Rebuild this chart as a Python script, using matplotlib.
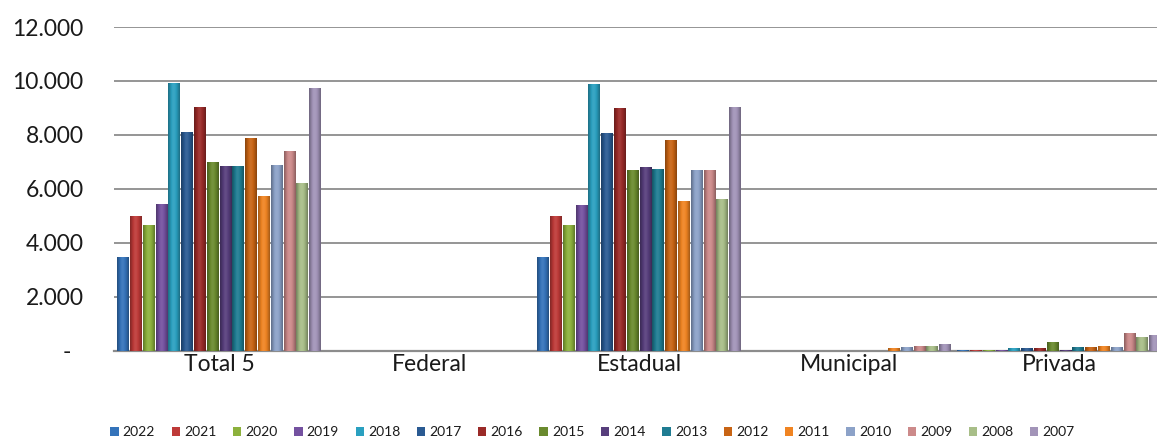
import numpy as np
import matplotlib
matplotlib.use("Agg")
import matplotlib.pyplot as plt
from matplotlib.patches import Patch
from matplotlib.ticker import FuncFormatter, MultipleLocator

plt.rcParams['font.family'] = ['Lato', 'DejaVu Sans']

categories = ["Total 5", "Federal", "Estadual", "Municipal", "Privada"]
years = ["2022", "2021", "2020", "2019", "2018", "2017", "2016", "2015",
         "2014", "2013", "2012", "2011", "2010", "2009", "2008", "2007"]

# values per category, ordered as the years above
total5 = [3480, 5000, 4670, 5450, 9940, 8110, 9040, 6990,
          6850, 6850, 7890, 5740, 6890, 7410, 6210, 9730]
federal = [0] * 16
estadual = [3480, 5000, 4670, 5410, 9890, 8070, 9000, 6690,
            6810, 6740, 7810, 5560, 6690, 6690, 5620, 9040]
municipal = [0, 0, 0, 0, 0, 0, 0, 0,
             0, 0, 0, 100, 135, 185, 185, 250]
privada = [10, 10, 40, 40, 110, 110, 110, 330,
           40, 150, 150, 185, 150, 670, 520, 570]

colors = ["#3473BA", "#BE3A38", "#8CB13C", "#7451A0", "#2AA0C0", "#2A5A92",
          "#9A2A28", "#6A8A2E", "#573E7C", "#1F7C92", "#C86414", "#F08422",
          "#8CA2C8", "#CC8A8A", "#A8BE88", "#A294B8"]

data = [total5, federal, estadual, municipal, privada]

W, H = 1157, 441
fig = plt.figure(figsize=(W / 100, H / 100), dpi=100)
left_px, width_px = 114, 1050
ax = fig.add_axes([left_px / W, (H - 350.7) / H, width_px / W, 323.7 / H])

pitch = 12.8 / 210.0
bw = 0.056
x = np.arange(len(categories))


def shade(c, f):
    rgb = np.array(matplotlib.colors.to_rgb(c))
    if f < 1:
        return rgb * f
    return rgb + (1 - rgb) * (f - 1)


for i, yr in enumerate(years):
    vals = [d[i] for d in data]
    xs = x + (i - 7.5) * pitch
    bars = ax.bar(xs, vals, width=bw, color=colors[i], edgecolor="none",
                  zorder=3)
    # cylinder-like horizontal gradient
    prof = np.array([0.72, 0.85, 0.97, 1.06, 1.08, 1.03, 0.95, 0.85, 0.72])
    img = np.array([[shade(colors[i], f) for f in prof]])
    for b in bars:
        h = b.get_height()
        if h <= 0:
            continue
        x0 = b.get_x()
        im = ax.imshow(img, extent=(x0, x0 + bw, 0, h), aspect="auto",
                       zorder=3.5, interpolation="bilinear")
        im.set_clip_path(b)

ax.set_xlim(-0.5, len(categories) - 0.5)
ax.set_ylim(0, 12000)
ax.yaxis.set_major_locator(MultipleLocator(2000))


def fmt(v, pos):
    if v == 0:
        return "-  "
    return f"{v:,.0f}".replace(",", ".")


ax.yaxis.set_major_formatter(FuncFormatter(fmt))
ax.set_xticks(x)
ax.set_xticklabels(categories)
ax.grid(axis="y", color="#8C8C8C", linewidth=1.3, zorder=1)
for s in ["top", "right", "left"]:
    ax.spines[s].set_visible(False)
ax.spines["bottom"].set_color("#8C8C8C")
ax.spines["bottom"].set_linewidth(1.6)
ax.tick_params(axis="y", length=0, pad=22, labelsize=16.5, labelcolor="#1a1a1a")
ax.tick_params(axis="x", length=0, pad=2.5, labelsize=16.5, labelcolor="#1a1a1a")
ax.set_xlim(-0.5, len(categories) - 0.5)

handles = [Patch(facecolor=c, edgecolor="none") for c in colors]
fig.legend(handles, years, loc="lower center", bbox_to_anchor=(0.512, -0.01),
           ncol=16, frameon=False, fontsize=10, handlelength=0.6,
           handleheight=0.6, handletextpad=0.3, columnspacing=1.19,
           borderpad=0, labelcolor="#1a1a1a")

fig.savefig("out.png", dpi=100)
